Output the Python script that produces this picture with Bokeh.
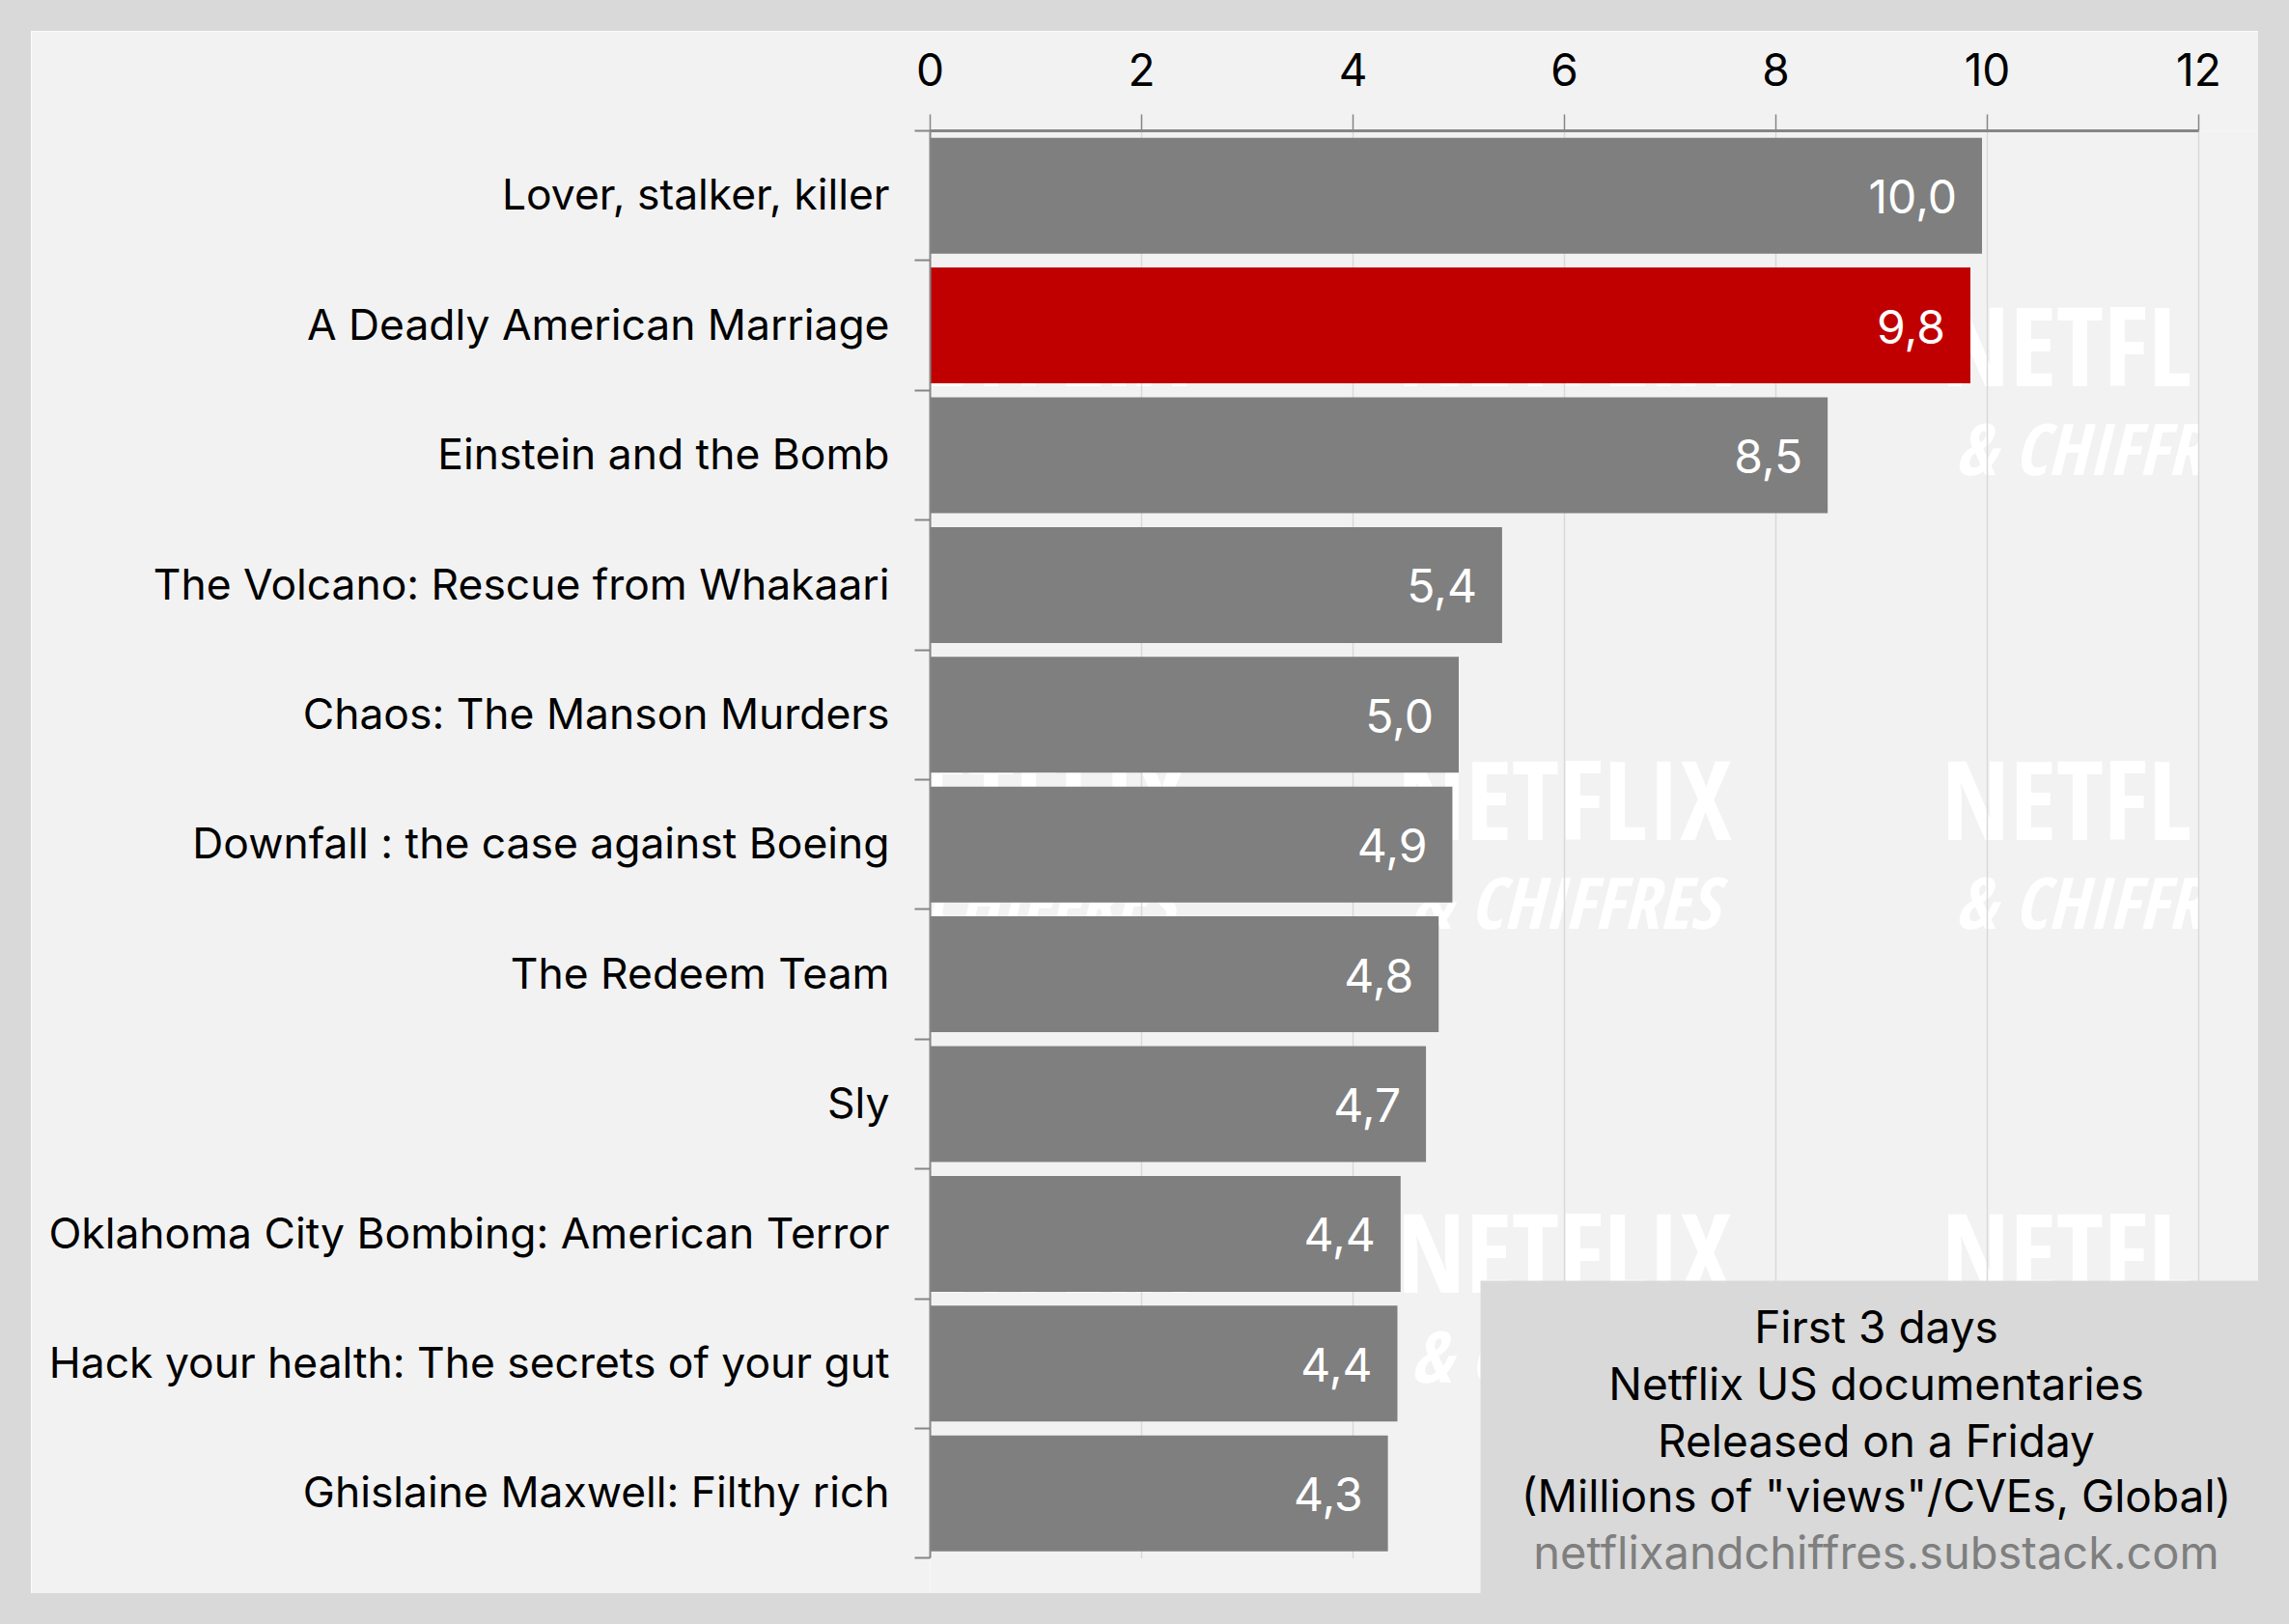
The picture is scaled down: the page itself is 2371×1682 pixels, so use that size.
from bokeh.embed import file_html
from bokeh.resources import INLINE
from bokeh.plotting import figure
from bokeh.core.properties import value as V
from bokeh.models import (ColumnDataSource, Range1d, LinearAxis, FixedTicker, BoxAnnotation, Label)

names = ["Lover, stalker, killer", "A Deadly American Marriage", "Einstein and the Bomb",
         "The Volcano: Rescue from Whakaari", "Chaos: The Manson Murders",
         "Downfall : the case against Boeing", "The Redeem Team", "Sly",
         "Oklahoma City Bombing: American Terror", "Hack your health: The secrets of your gut",
         "Ghislaine Maxwell: Filthy rich"]
values = [9.95, 9.84, 8.49, 5.41, 5.00, 4.94, 4.81, 4.69, 4.45, 4.42, 4.33]
value_labels = ["10,0", "9,8", "8,5", "5,4", "5,0", "4,9", "4,8", "4,7", "4,4", "4,4", "4,3"]
x_ticks = [0, 2, 4, 6, 8, 10, 12]
note_lines = ["First 3 days", "Netflix US documentaries", "Released on a Friday",
              '(Millions of "views"/CVEs, Global)']
note_source = "netflixandchiffres.substack.com"
highlight = "A Deadly American Marriage"

FONT = "Inter"
WM_FONT = "'Open Sans Condensed', 'DejaVu Sans Condensed', Roboto"
OUT = "#d9d9d9"
PANEL = "#f2f2f2"
AXIS = "#868686"

# Layout of the panel in picture pixels
PX_L, PX_R, PY_T, PY_B = 32, 2339, 32, 1650
X0, UX = 963.0, 109.5       # pixel of value 0, pixels per unit
Y0, UY = 135.0, 134.4       # pixel of slot 0, pixels per slot


def dx(px):
    return (px - X0) / UX


def dy(py):
    return (py - Y0) / UY


n = len(names)
slots = [i + 0.5 for i in range(n)]
label_slots = [s - 0.01 for s in slots]
colors = ["#c00000" if nm == highlight else "#7f7f7f" for nm in names]
src = ColumnDataSource(dict(slot=slots, value=values, label=value_labels, color=colors))

p = figure(width=PX_R - PX_L, height=PY_B - PY_T, output_backend="svg", toolbar_location=None,
           x_range=Range1d(0, dx(PX_R)), y_range=Range1d(dy(PY_B), 0),
           x_axis_location="above", y_axis_location=None,
           min_border=0, min_border_top=int(Y0) - PY_T, min_border_left=int(X0) - PX_L,
           margin=(PY_T, 0, 0, PX_L))
p.styles = {"outline": "32px solid " + OUT}
p.background_fill_color = None
p.border_fill_color = PANEL
p.outline_line_color = None

# panel, watermark, and a mask that clips the watermark at the end of the scale
p.quad(left=[0], right=[dx(PX_R)], top=[0], bottom=[dy(PY_B)],
       fill_color=PANEL, line_color=None, level="image")
for col in (0.85, 6.0, 11.15):
    for row_a, row_b in ((1.64, 2.44), (5.135, 5.935), (8.63, 9.435)):
        p.text([col], [row_a], text=["NETFLIX"], text_color="white",
               text_font=V(WM_FONT), text_font_style="bold", text_font_size="113px",
               text_align="center", text_baseline="middle", level="image")
        p.text([col], [row_b], text=["& CHIFFRES"], text_color="white",
               text_font=V(WM_FONT), text_font_style="bold italic", text_font_size="74px",
               text_align="center", text_baseline="middle", level="image")
p.quad(left=[12], right=[dx(PX_R)], top=[0], bottom=[dy(PY_B)],
       fill_color=PANEL, line_color=None, level="image")

# gridlines
p.segment(x0=x_ticks, x1=x_ticks, y0=[0] * len(x_ticks), y1=[n] * len(x_ticks),
          line_color=OUT, line_width=1.5, level="underlay")

p.hbar(y="slot", right="value", left=0, height=120 / UY, fill_color="color", line_color=None, source=src)
p.text(x="value", y="slot", text="label", source=src, text_color="white", text_font=V(FONT),
       text_font_size="48px", text_align="right", text_baseline="middle", x_offset=-26, y_offset=1)

# top axis
xa = p.xaxis[0]
xa.bounds = (0, 12)
xa.ticker = FixedTicker(ticks=x_ticks)
xa.major_label_text_font = FONT
xa.major_label_text_font_size = "46px"
xa.major_label_text_color = "black"
xa.major_label_standoff = 30
xa.major_tick_out = 17
xa.major_tick_in = 0
xa.major_tick_line_color = AXIS
xa.major_tick_line_width = 1.5
xa.axis_line_color = AXIS
xa.axis_line_width = 3
xa.minor_tick_line_color = None

# boundary ticks
ba = LinearAxis(bounds=(0, n), ticker=FixedTicker(ticks=list(range(n + 1))),
                major_label_overrides={i: "" for i in range(n + 1)},
                major_label_text_font_size="1px", major_label_standoff=0,
                major_tick_out=16, major_tick_in=0, major_tick_line_color=AXIS, major_tick_line_width=2,
                minor_tick_line_color=None, axis_line_color=AXIS, axis_line_width=2)
# category labels
ya = LinearAxis(ticker=FixedTicker(ticks=label_slots),
                major_label_overrides=dict(zip(label_slots, names)),
                major_label_text_font=FONT, major_label_text_font_size="44.4px", major_label_text_color="black",
                major_tick_in=0, major_tick_out=0,
                major_tick_line_color=None, minor_tick_line_color=None, axis_line_color=None,
                major_label_standoff=26)
p.add_layout(ba, "left")
p.add_layout(ya, "left")

p.xgrid.grid_line_color = None
p.ygrid.grid_line_color = None

# note box
p.add_layout(BoxAnnotation(left=dx(1533), right=dx(PX_R), top=dy(1326), bottom=dy(PY_B),
                           fill_color=OUT, fill_alpha=1, line_color=None))
line_y = [1373, 1432, 1491, 1548, 1607]
for txt, yy, c, fs in zip(note_lines + [note_source], line_y, ["black"] * 4 + ["#7f7f7f"], ["46px"] * 4 + ["47px"]):
    p.add_layout(Label(x=dx(1943), y=dy(yy), text=txt,
                       text_font=FONT, text_font_size=fs, text_color=c,
                       text_align="center", text_baseline="middle"))

open("out.html", "w").write(file_html(p, INLINE))
